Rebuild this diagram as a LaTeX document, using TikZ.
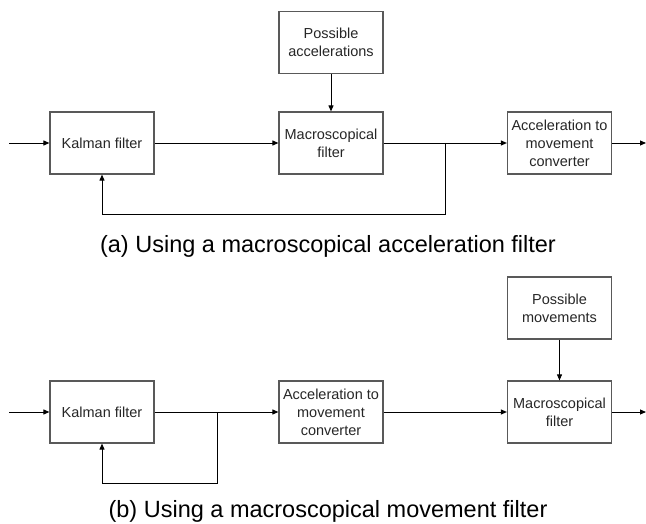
\documentclass[tikz,border=0pt]{standalone}
\usepackage{fontspec}
\setmainfont{Liberation Sans}
\usetikzlibrary{arrows.meta}

\begin{document}
\begin{tikzpicture}[x=1pt, y=-1pt,
    box/.style={draw=black!65, line width=1.2pt, minimum width=104pt, minimum height=62pt,
        inner sep=1pt, align=center, font=\fontsize{14.5}{18}\selectfont, text=black!85},
    conn/.style={line width=0.9pt, -{Triangle[length=6pt,width=5pt]}},
    caption/.style={anchor=base, font=\fontsize{23.5}{28}\selectfont}]
    \useasboundingbox (0,0) rectangle (646,524);
    % (a) acceleration filter
    \node[box] (kal) at (102,143) {Kalman filter};
    \node[box] (acc) at (331,42.5) {Possible\\accelerations};
    \node[box] (mac) at (331,143) {Macroscopical\\filter};
    \node[box] (conv) at (559.5,143) {Acceleration to\\movement\\converter};
    \coordinate (in) at (9,143);
    \coordinate (out) at (646,143);
    \coordinate (fa) at (445,143);
    \coordinate (fb) at (445,214);
    \draw[conn] (in) -- (kal);
    \draw[conn] (kal) -- (mac);
    \draw[conn] (acc) -- (mac);
    \draw[conn] (mac) -- (conv);
    \draw[conn] (conv) -- (out);
    \draw[conn] (fa) -- (fb) -| (kal.south);
    \node[caption] (capa) at (328,253) {(a) Using a macroscopical acceleration filter};
    % (b) movement filter
    \node[box] (kal2) at (102,412) {Kalman filter};
    \node[box] (conv2) at (331,412) {Acceleration to\\movement\\converter};
    \node[box] (mov) at (559.5,308) {Possible\\movements};
    \node[box] (mac2) at (559.5,412) {Macroscopical\\filter};
    \coordinate (in2) at (9,412);
    \coordinate (out2) at (646,412);
    \coordinate (fc) at (217,412);
    \coordinate (fd) at (217,483);
    \draw[conn] (in2) -- (kal2);
    \draw[conn] (kal2) -- (conv2);
    \draw[conn] (conv2) -- (mac2);
    \draw[conn] (mov) -- (mac2);
    \draw[conn] (mac2) -- (out2);
    \draw[conn] (fc) -- (fd) -| (kal2.south);
    \node[caption] (capb) at (328,517) {(b) Using a macroscopical movement filter};
\end{tikzpicture}
\end{document}
